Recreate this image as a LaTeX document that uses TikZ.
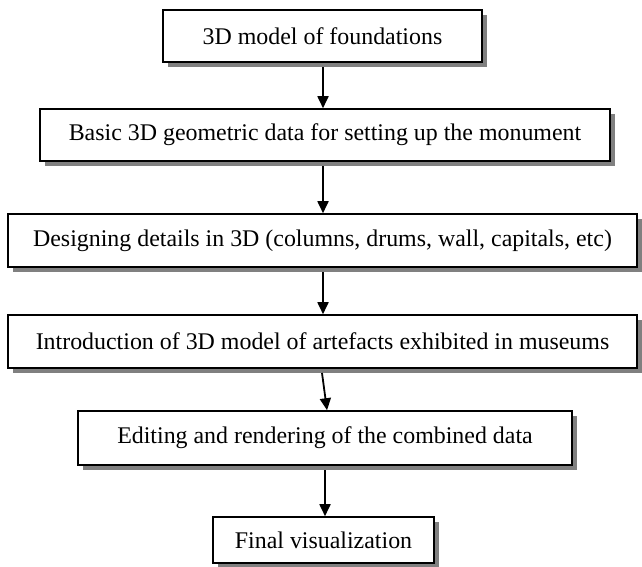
\documentclass[tikz,border=0pt]{standalone}
\usepackage{fontspec}
\setmainfont{Liberation Serif}
\usetikzlibrary{arrows.meta}
\begin{document}
\begin{tikzpicture}[x=1pt,y=1pt,
  box/.style={draw=black, line width=1.6pt, fill=white, inner sep=0pt, align=center,
    font=\fontsize{23.9}{28}\selectfont},
  shadowbox/.style={fill=black!50, draw=none},
  arr/.style={line width=1.8pt, -{Triangle[length=12pt,width=11pt]}}]
\useasboundingbox (0,0) rectangle (642,-566);
% shadows
\fill[shadowbox] (168,-15) rectangle (487,-67);
\fill[shadowbox] (45,-114) rectangle (615,-166);
\fill[shadowbox] (13,-219) rectangle (642,-272);
\fill[shadowbox] (13,-320) rectangle (642,-373);
\fill[shadowbox] (83,-416) rectangle (577,-470);
\fill[shadowbox] (218,-522) rectangle (439,-568);
% boxes
\node[box, minimum width=319pt, minimum height=52pt] (b1) at (322.5,-36) {3D model of foundations};
\node[box, minimum width=570pt, minimum height=52pt] (b2) at (325,-135) {Basic 3D geometric data for setting up the monument};
\node[box, minimum width=629pt, minimum height=53pt] (b3) at (322.5,-240.5) {Designing details in 3D (columns, drums, wall, capitals, etc)};
\node[box, minimum width=629pt, minimum height=53pt] (b4) at (322.5,-341.5) {Introduction of 3D model of artefacts exhibited in museums};
\node[box, minimum width=494pt, minimum height=54pt] (b5) at (325,-438) {Editing and rendering of the combined data};
\node[box, minimum width=221pt, minimum height=46pt] (b6) at (323.5,-540) {Final visualization};
% arrows
\coordinate (s1) at (323,-67);
\coordinate (s2) at (323,-166);
\coordinate (s3) at (323,-272);
\coordinate (s4) at (322,-373);
\coordinate (s5) at (325,-470);
\draw[arr] (s1) -- (s1 |- b2.north);
\draw[arr] (s2) -- (s2 |- b3.north);
\draw[arr] (s3) -- (s3 |- b4.north);
\draw[arr] (s4) -- ([xshift=5pt]s4 |- b5.north);
\draw[arr] (s5) -- (s5 |- b6.north);
\end{tikzpicture}
\end{document}
